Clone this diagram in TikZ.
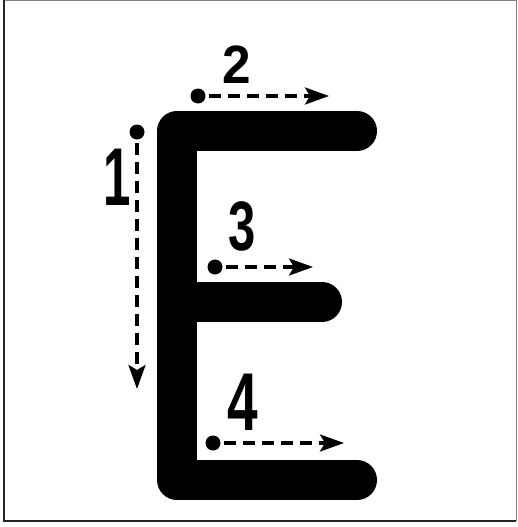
\documentclass[tikz,border=0pt]{standalone}
\usepackage{fontspec}
\newfontfamily\numfont{Liberation Sans}
\usetikzlibrary{arrows.meta}

\tikzset{
    startdot/.style={circle, fill=black, inner sep=0pt, minimum size=15pt},
    guide/.style={line width=3.4pt, dash pattern=on 12pt off 7pt,
        -{Stealth[length=24pt, width=17pt, inset=5pt]}, shorten <=3pt},
    numlabel/.style={inner sep=0pt, text=black},
}

\begin{document}
\begin{tikzpicture}[x=1pt, y=-1pt]

\useasboundingbox (0,0) rectangle (517,527);

% Frame
\draw[gray, line width=1pt] (4,0.5) -- (516,0.5) -- (516,521);
\draw[black!85, line width=2pt] (4,0) -- (4,521) -- (516,521);

% The letter E
\draw[line width=40pt, line cap=round, line join=round]
    (357,131) -- (177,131) -- (177,480) -- (357,480);
\draw[line width=40pt, line cap=round] (177,302) -- (322,302);

% Start points and stroke directions
\node[startdot] (s1) at (137,132) {};
\node[startdot] (s2) at (198,96) {};
\node[startdot] (s3) at (215,267) {};
\node[startdot] (s4) at (213,443) {};

\coordinate (e1) at (137,389);
\coordinate (e2) at (329,96);
\coordinate (e3) at (313,267);
\coordinate (e4) at (344,443);

\draw[guide] (s1) -- (e1);
\draw[guide] (s2) -- (e2);
\draw[guide] (s3) -- (e3);
\draw[guide] (s4) -- (e4);

% Stroke numbers
\node[numlabel, font=\numfont\bfseries\fontsize{82}{82}\selectfont, xscale=0.6] (n1) at (117.5,177.5) {1};
\node[numlabel, font=\numfont\bfseries\fontsize{54}{54}\selectfont, xscale=0.95] (n2) at (236.5,64.5) {2};
\node[numlabel, font=\numfont\bfseries\fontsize{70}{70}\selectfont, xscale=0.7] (n3) at (242.5,226.5) {3};
\node[numlabel, font=\numfont\bfseries\fontsize{82}{82}\selectfont, xscale=0.67] (n4) at (242.5,402) {4};

\end{tikzpicture}
\end{document}
